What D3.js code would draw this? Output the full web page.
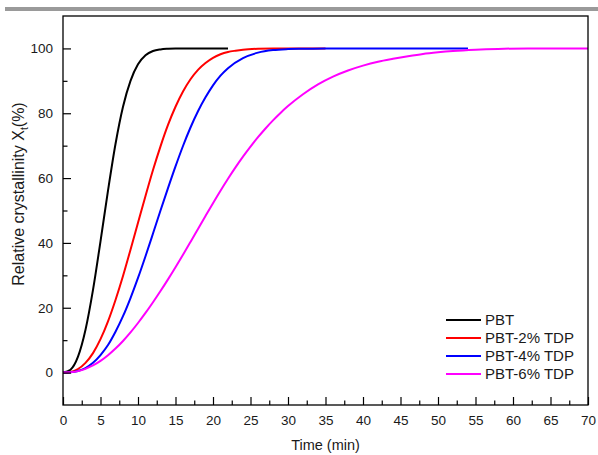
<!DOCTYPE html>
<html>
<head>
<meta charset="utf-8">
<script src="https://cdn.jsdelivr.net/npm/d3@7"></script>
<style>
  html, body { margin: 0; padding: 0; background: #fff; }
  svg { display: block; font-family: "Liberation Sans", Arial, sans-serif; }
</style>
</head>
<body>
<svg id="chart" width="598" height="455"></svg>
<script>
// Isothermal crystallization: relative crystallinity vs time
const seriesNames = ["PBT", "PBT-2% TDP", "PBT-4% TDP", "PBT-6% TDP"];
const seriesColors = ["#000000", "#ff0000", "#0000ff", "#ff00ff"];

const timePBT = [0, 1, 2, 3, 4, 5, 6, 7, 8, 9, 10, 11, 12, 13, 14, 15, 22];
const valPBT  = [0, 0.9, 4.9, 13.2, 25.5, 40.5, 56.1, 70.5, 82.0, 90.0, 95.1, 97.9, 99.2, 99.7, 99.9, 100, 100];

const timePBT2 = [0, 1, 2, 3, 4, 5, 6, 7, 8, 9, 10, 11, 12, 13, 14, 15, 16, 17, 18, 19, 20, 21, 22, 23, 24, 26, 28, 35];
const valPBT2  = [0, 0.2, 1.1, 3.0, 6.0, 10.3, 15.8, 22.4, 29.8, 37.9, 46.2, 54.5, 62.5, 69.8, 76.4, 82.0, 86.7, 90.5, 93.4, 95.5, 97.1, 98.2, 98.9, 99.3, 99.6, 99.9, 100, 100];

const timePBT4 = [0, 1, 2, 3, 4, 5, 6, 7, 8, 9, 10, 11, 12, 13, 14, 15, 16, 17, 18, 19, 20, 21, 22, 24, 26, 28, 30, 32, 35, 54];
const valPBT4  = [0, 0.1, 0.5, 1.4, 3.0, 5.4, 8.5, 12.6, 17.4, 23.0, 29.2, 35.9, 42.9, 50.0, 56.9, 63.6, 69.9, 75.6, 80.6, 84.9, 88.6, 91.6, 93.9, 97.0, 98.7, 99.5, 99.8, 99.9, 100, 100];

const timePBT6 = [0, 1, 2, 3, 4, 5, 6, 7, 8, 9, 10, 11, 12, 13, 14, 15, 16, 17, 18, 19, 20, 21, 22, 23, 24, 25, 26, 27, 28, 29, 30, 32, 34, 36, 38, 40, 42, 44, 46, 48, 50, 52, 55, 58, 62, 70];
const valPBT6  = [0, 0.1, 0.45, 1.15, 2.2, 3.6, 5.35, 7.4, 9.75, 12.4, 15.3, 18.4, 21.7, 25.15, 28.75, 32.5, 36.35, 40.3, 44.3, 48.3, 52.25, 56.1, 59.8, 63.3, 66.6, 69.7, 72.6, 75.3, 77.8, 80.1, 82.2, 85.85, 88.9, 91.3, 93.2, 94.7, 95.9, 96.8, 97.6, 98.3, 98.8, 99.2, 99.6, 99.85, 100, 100];

const xTicks = [0, 5, 10, 15, 20, 25, 30, 35, 40, 45, 50, 55, 60, 65, 70];
const xMinorTicks = [2.5, 7.5, 12.5, 17.5, 22.5, 27.5, 32.5, 37.5, 42.5, 47.5, 52.5, 57.5, 62.5, 67.5];
const yTicks = [0, 20, 40, 60, 80, 100];
const yMinorTicks = [10, 30, 50, 70, 90];

const series = [
  { t: timePBT,  v: valPBT },
  { t: timePBT2, v: valPBT2 },
  { t: timePBT4, v: valPBT4 },
  { t: timePBT6, v: valPBT6 }
].map((s, i) => ({
  name: seriesNames[i],
  color: seriesColors[i],
  points: s.t.map((t, j) => [t, s.v[j]])
}));

const svg = d3.select("#chart");
const L = 63, R = 588, T = 16, B = 405;

const x = d3.scaleLinear().domain([0, 70]).range([L, R]);
const y = d3.scaleLinear().domain([-10, 110]).range([B, T]);

// grey rule across the top
svg.append("rect")
  .attr("x", 5).attr("y", 7).attr("width", 593).attr("height", 4)
  .attr("fill", "#9a9a9a");

// curves
const line = d3.line()
  .x(d => x(d[0]))
  .y(d => y(d[1]))
  .curve(d3.curveMonotoneX);

svg.append("g").selectAll("path")
  .data(series)
  .join("path")
  .attr("d", d => line(d.points))
  .attr("fill", "none")
  .attr("stroke", d => d.color)
  .attr("stroke-width", 2);

// frame
svg.append("rect")
  .attr("x", L).attr("y", T).attr("width", R - L).attr("height", B - T)
  .attr("fill", "none").attr("stroke", "#000").attr("stroke-width", 1.3);

// bottom axis, ticks pointing inward
svg.append("g").attr("transform", `translate(0,${B})`)
  .call(d3.axisBottom(x).tickValues(xTicks).tickSize(-8).tickPadding(10).tickFormat(d3.format("d")));
svg.append("g").attr("transform", `translate(0,${B})`)
  .call(d3.axisBottom(x).tickValues(xMinorTicks).tickSize(-4.5).tickFormat(""));

// left axis, ticks pointing inward
svg.append("g").attr("transform", `translate(${L},0)`)
  .call(d3.axisLeft(y).tickValues(yTicks).tickSize(-8).tickPadding(10).tickFormat(d3.format("d")));
svg.append("g").attr("transform", `translate(${L},0)`)
  .call(d3.axisLeft(y).tickValues(yMinorTicks).tickSize(-4.5).tickFormat(""));

svg.selectAll(".domain").remove();
svg.selectAll(".tick line").attr("stroke", "#000").attr("stroke-width", 1.2);
svg.selectAll(".tick text")
  .attr("font-family", "'Liberation Sans', Arial, sans-serif")
  .attr("font-size", 13.5)
  .attr("fill", "#1a1a1a");

// axis titles
svg.append("text")
  .attr("x", (L + R) / 2).attr("y", 450)
  .attr("text-anchor", "middle")
  .attr("font-size", 14.5).attr("fill", "#1a1a1a")
  .text("Time (min)");

const yTitle = svg.append("text")
  .attr("transform", "translate(24,194) rotate(-90)")
  .attr("text-anchor", "middle")
  .attr("font-size", 16).attr("fill", "#1a1a1a");
yTitle.append("tspan").text("Relative crystallinity X");
yTitle.append("tspan").attr("font-size", 10.5).attr("dy", 4).text("t");
yTitle.append("tspan").attr("dy", -4).text("(%)");

// legend
const legend = svg.append("g");
const legendY0 = 320, legendStep = 18;
series.forEach((s, i) => {
  const ly = legendY0 + i * legendStep;
  legend.append("line")
    .attr("x1", 446).attr("x2", 481).attr("y1", ly).attr("y2", ly)
    .attr("stroke", s.color).attr("stroke-width", 2);
  legend.append("text")
    .attr("x", 485).attr("y", ly).attr("dy", "0.36em")
    .attr("font-size", 15).attr("fill", "#1a1a1a")
    .text(s.name);
});
</script>
</body>
</html>
